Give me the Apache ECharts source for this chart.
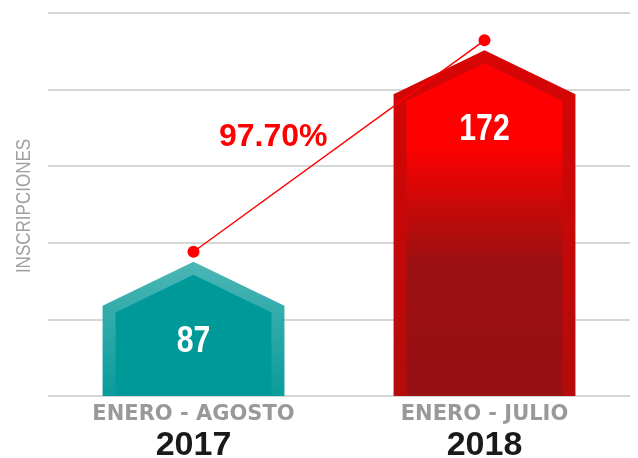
<!DOCTYPE html>
<html>
<head>
<meta charset="utf-8">
<script src="https://cdn.jsdelivr.net/npm/echarts@6/dist/echarts.min.js"></script>
<style>
  html, body { margin: 0; padding: 0; background: #fff; }
  #chart { width: 638px; height: 458px; }
</style>
</head>
<body>
<div id="chart"></div>
<script>
// datos
var periodos = ['ENERO - AGOSTO', 'ENERO - JULIO'];
var anios = ['2017', '2018'];
var inscripciones = [87, 172];

// escala de valores (eje oculto) y lineas guia
var yMin = 29, yMax = 183;
var gridLines = 5;

var outerFills = [
    new echarts.graphic.LinearGradient(0, 0, 0, 1, [
        { offset: 0, color: '#4cb6b6' },
        { offset: 1, color: '#0a9b9b' }
    ]),
    new echarts.graphic.LinearGradient(0, 0, 0, 1, [
        { offset: 0, color: '#d80505' },
        { offset: 1, color: '#b30b0b' }
    ])
];
var innerFills = [
    '#009999',
    new echarts.graphic.LinearGradient(0, 0, 0, 1, [
        { offset: 0, color: '#ff0000' },
        { offset: 0.25, color: '#fe0000' },
        { offset: 0.45, color: '#c20a0a' },
        { offset: 0.6, color: '#9c1012' },
        { offset: 1, color: '#971013' }
    ])
];

// casita: rectangulo con techo en punta
function renderHouse(params, api) {
    var i = params.dataIndex;
    var top = api.coord([api.value(0), api.value(1)]);
    var base = api.coord([api.value(0), yMin]);
    var halfW = api.size([1, 0])[0] * 0.3125;
    var cx = top[0];
    var peak = top[1] + 10;
    var rise = 44;
    var shoulder = peak + rise;
    var bottom = base[1];
    var b = 13;
    var iw = halfW - b;
    var ipeak = peak + b;
    var ishoulder = ipeak + rise * iw / halfW;
    return {
        type: 'group',
        children: [
            {
                type: 'polygon',
                shape: { points: [[cx - halfW, bottom], [cx - halfW, shoulder], [cx, peak], [cx + halfW, shoulder], [cx + halfW, bottom]] },
                style: { fill: outerFills[i] }
            },
            {
                type: 'polygon',
                shape: { points: [[cx - iw, bottom], [cx - iw, ishoulder], [cx, ipeak], [cx + iw, ishoulder], [cx + iw, bottom]] },
                style: { fill: innerFills[i] }
            },
            {
                type: 'text',
                x: cx,
                y: peak + 80,
                scaleX: 0.84,
                style: {
                    text: String(api.value(1)),
                    x: 0,
                    y: 0,
                    align: 'center',
                    verticalAlign: 'middle',
                    fill: '#ffffff',
                    font: 'bold 36px "Liberation Sans", Arial, sans-serif'
                }
            }
        ]
    };
}

var pct = ((inscripciones[1] - inscripciones[0]) / inscripciones[0] * 100).toFixed(2) + '%';

var myChart = echarts.init(document.getElementById('chart')),
    option = {
        animation: false,
        grid: {
            left: 48,
            right: 8,
            top: 13,
            bottom: 62,
            outerBoundsMode: 'none'
        },
        xAxis: [
            {
                type: 'category',
                data: periodos,
                axisLine: { show: false },
                axisTick: { show: false },
                axisLabel: {
                    interval: 0,
                    margin: 6,
                    formatter: function (v, idx) {
                        return '{a|' + v + '}\n{b|' + anios[idx] + '}';
                    },
                    rich: {
                        a: { fontFamily: 'DejaVu Sans', fontWeight: 'bold', fontSize: 21, color: '#999999', lineHeight: 26 },
                        b: { fontFamily: 'Liberation Sans', fontWeight: 'bold', fontSize: 34, color: '#1a1a1a', lineHeight: 36 }
                    }
                }
            }
        ],
        yAxis: [
            {
                type: 'value',
                min: 0,
                max: gridLines,
                interval: 1,
                axisLine: { show: false },
                axisTick: { show: false },
                axisLabel: { show: false },
                splitLine: { lineStyle: { color: '#d6d6d6', width: 2 } }
            },
            {
                type: 'value',
                min: yMin,
                max: yMax,
                show: false,
                splitLine: { show: false }
            }
        ],
        graphic: [
            {
                // titulo del eje, letra alta y angosta
                type: 'text',
                x: 24,
                y: 206,
                rotation: Math.PI / 2,
                scaleX: 0.81,
                style: {
                    text: 'INSCRIPCIONES',
                    x: 0,
                    y: 0,
                    align: 'center',
                    verticalAlign: 'middle',
                    font: '21px "Liberation Sans", Arial, sans-serif',
                    fill: '#a0a0a0'
                }
            },
            {
                type: 'text',
                left: 219,
                top: 121,
                style: { text: pct, font: 'bold 32px "Liberation Sans", Arial, sans-serif', fill: '#ff0000' }
            }
        ],
        series: [
            {
                type: 'custom',
                yAxisIndex: 1,
                renderItem: renderHouse,
                data: inscripciones.map(function (v, i) { return [i, v]; }),
                z: 2
            },
            {
                type: 'line',
                yAxisIndex: 1,
                data: inscripciones,
                symbol: 'circle',
                symbolSize: 12,
                itemStyle: { color: '#ff0000' },
                lineStyle: { color: '#ff0000', width: 1.5 },
                z: 3
            }
        ]
    };

myChart.setOption(option);
</script>
</body>
</html>
